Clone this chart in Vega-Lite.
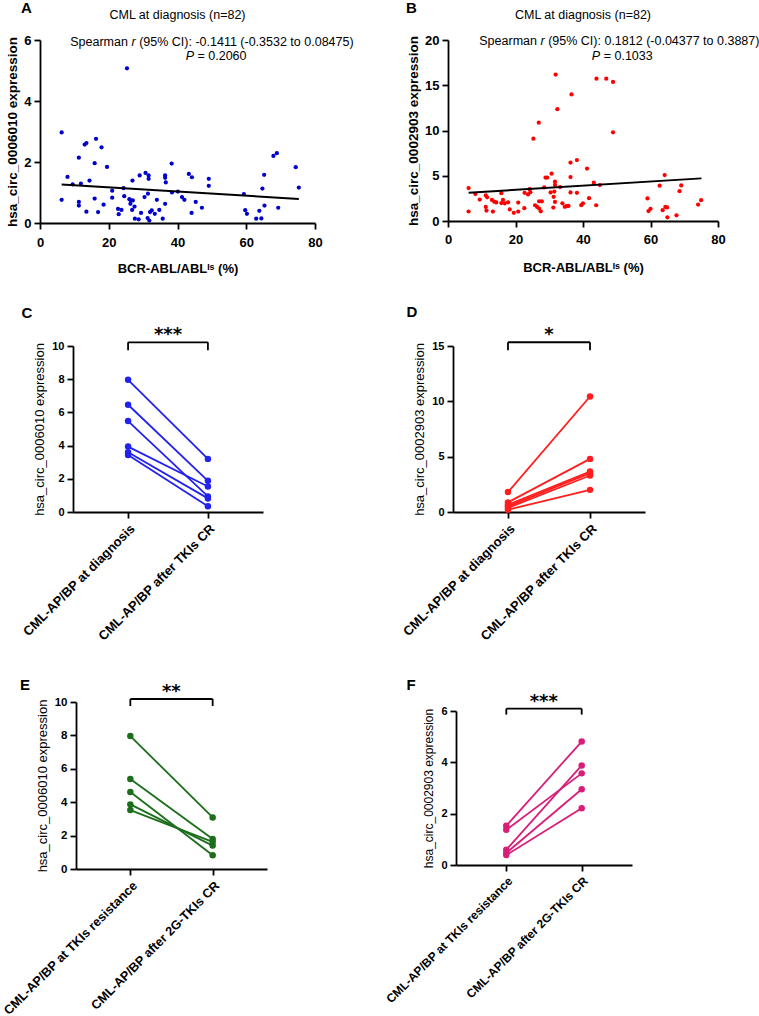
{
  "$schema": "https://vega.github.io/schema/vega-lite/v6.json",
  "padding": 0,
  "background": "white",
  "config": {
    "font": "Liberation Sans",
    "view": {"stroke": null},
    "axis": {"domainColor": "#000", "tickColor": "#000", "labelColor": "#000", "titleColor": "#000", "domainWidth": 1.8, "tickWidth": 1.8, "tickSize": 6, "grid": false, "labelOverlap": false, "labelFont": "Liberation Sans", "titleFont": "Liberation Sans"},
    "title": {"font": "Liberation Sans", "color": "#000"}
  },
  "datasets": {
    "A": [{"x":6.3,"y":2.97},{"x":6.3,"y":0.76},{"x":8.0,"y":1.51},{"x":9.5,"y":1.27},{"x":11.3,"y":2.14},{"x":11.3,"y":0.69},{"x":11.3,"y":0.57},{"x":11.9,"y":1.29},{"x":13.0,"y":2.57},{"x":13.5,"y":2.62},{"x":13.5,"y":0.37},{"x":14.4,"y":1.39},{"x":15.9,"y":1.96},{"x":15.9,"y":0.80},{"x":16.3,"y":2.76},{"x":16.9,"y":0.36},{"x":17.9,"y":2.48},{"x":18.5,"y":0.60},{"x":19.5,"y":1.84},{"x":21.0,"y":1.06},{"x":21.0,"y":0.83},{"x":22.7,"y":0.46},{"x":22.9,"y":0.29},{"x":23.7,"y":0.43},{"x":24.3,"y":1.14},{"x":24.5,"y":0.88},{"x":25.3,"y":5.07},{"x":26.0,"y":0.78},{"x":26.3,"y":0.63},{"x":26.4,"y":0.74},{"x":26.8,"y":0.43},{"x":26.9,"y":1.39},{"x":27.0,"y":0.74},{"x":27.5,"y":0.54},{"x":27.6,"y":0.14},{"x":28.7,"y":0.12},{"x":29.0,"y":1.56},{"x":29.4,"y":0.33},{"x":30.4,"y":0.85},{"x":30.7,"y":1.64},{"x":31.4,"y":0.96},{"x":31.6,"y":1.56},{"x":31.6,"y":1.45},{"x":31.3,"y":0.16},{"x":31.8,"y":0.08},{"x":32.0,"y":0.36},{"x":32.5,"y":0.41},{"x":33.4,"y":0.30},{"x":34.0,"y":0.76},{"x":34.7,"y":0.43},{"x":35.7,"y":0.14},{"x":36.4,"y":1.56},{"x":36.4,"y":1.48},{"x":36.6,"y":1.33},{"x":36.4,"y":0.63},{"x":38.3,"y":1.95},{"x":38.4,"y":1.00},{"x":40.1,"y":1.03},{"x":41.3,"y":0.85},{"x":42.0,"y":0.76},{"x":43.3,"y":1.61},{"x":44.2,"y":1.50},{"x":44.1,"y":0.33},{"x":45.3,"y":0.69},{"x":47.1,"y":0.50},{"x":49.1,"y":1.45},{"x":49.1,"y":1.22},{"x":59.3,"y":0.95},{"x":59.7,"y":0.42},{"x":60.2,"y":0.30},{"x":62.9,"y":0.14},{"x":64.4,"y":0.15},{"x":63.8,"y":0.40},{"x":64.7,"y":1.13},{"x":65.2,"y":1.58},{"x":65.3,"y":0.57},{"x":67.9,"y":2.20},{"x":68.9,"y":2.29},{"x":69.3,"y":0.50},{"x":74.4,"y":1.83},{"x":75.3,"y":1.16}],
    "lineA": [{"x":6.3,"y":1.26},{"x":75.3,"y":0.79}],
    "B": [{"x":6.1,"y":3.64},{"x":6.1,"y":1.05},{"x":8.1,"y":2.98},{"x":9.4,"y":2.37},{"x":11.2,"y":2.82},{"x":11.6,"y":2.62},{"x":11.2,"y":1.56},{"x":11.4,"y":1.15},{"x":13.0,"y":2.33},{"x":13.7,"y":2.13},{"x":14.3,"y":2.05},{"x":13.3,"y":1.04},{"x":15.8,"y":3.08},{"x":15.8,"y":1.98},{"x":16.3,"y":2.33},{"x":16.8,"y":1.96},{"x":17.8,"y":2.07},{"x":18.3,"y":1.28},{"x":19.5,"y":0.9},{"x":20.8,"y":2.04},{"x":20.8,"y":1.04},{"x":22.6,"y":1.41},{"x":22.7,"y":3.11},{"x":23.7,"y":2.93},{"x":24.2,"y":3.52},{"x":24.4,"y":3.19},{"x":25.3,"y":9.09},{"x":25.8,"y":1.74},{"x":26.4,"y":1.56},{"x":27.0,"y":1.37},{"x":27.5,"y":1.07},{"x":27.0,"y":2.18},{"x":27.8,"y":2.18},{"x":26.9,"y":10.87},{"x":28.5,"y":3.71},{"x":28.9,"y":4.8},{"x":29.4,"y":4.8},{"x":30.4,"y":3.15},{"x":30.7,"y":5.23},{"x":31.2,"y":1.48},{"x":31.3,"y":2.67},{"x":31.5,"y":3.25},{"x":31.9,"y":16.18},{"x":31.7,"y":4.34},{"x":31.7,"y":3.98},{"x":31.7,"y":2.1},{"x":32.4,"y":12.36},{"x":33.2,"y":3.75},{"x":33.9,"y":1.95},{"x":34.6,"y":1.57},{"x":35.1,"y":1.65},{"x":35.7,"y":1.67},{"x":36.3,"y":6.46},{"x":36.3,"y":4.85},{"x":36.3,"y":3.15},{"x":36.6,"y":13.99},{"x":38.2,"y":6.73},{"x":38.2,"y":3.12},{"x":39.5,"y":1.75},{"x":40.0,"y":1.95},{"x":41.2,"y":5.79},{"x":41.8,"y":2.52},{"x":43.2,"y":4.23},{"x":43.9,"y":1.74},{"x":44.0,"y":15.73},{"x":45.0,"y":3.97},{"x":46.9,"y":15.73},{"x":48.9,"y":15.36},{"x":48.9,"y":9.8},{"x":59.1,"y":2.49},{"x":59.4,"y":1.1},{"x":60.0,"y":1.34},{"x":62.7,"y":3.9},{"x":63.6,"y":1.19},{"x":64.2,"y":5.08},{"x":64.4,"y":1.56},{"x":64.9,"y":1.5},{"x":65.0,"y":0.41},{"x":67.7,"y":0.63},{"x":68.6,"y":3.3},{"x":69.1,"y":3.93},{"x":74.1,"y":1.82},{"x":75.0,"y":2.3}],
    "lineB": [{"x":6.1,"y":3.12},{"x":75.1,"y":4.71}],
    "C": [{"pair":1,"g":"CML-AP/BP at diagnosis","v":7.96},{"pair":1,"g":"CML-AP/BP after TKIs CR","v":3.2},{"pair":2,"g":"CML-AP/BP at diagnosis","v":6.46},{"pair":2,"g":"CML-AP/BP after TKIs CR","v":1.88},{"pair":3,"g":"CML-AP/BP at diagnosis","v":5.48},{"pair":3,"g":"CML-AP/BP after TKIs CR","v":0.94},{"pair":4,"g":"CML-AP/BP at diagnosis","v":3.94},{"pair":4,"g":"CML-AP/BP after TKIs CR","v":1.54},{"pair":5,"g":"CML-AP/BP at diagnosis","v":3.6},{"pair":5,"g":"CML-AP/BP after TKIs CR","v":0.82},{"pair":6,"g":"CML-AP/BP at diagnosis","v":3.44},{"pair":6,"g":"CML-AP/BP after TKIs CR","v":0.34}],
    "D": [{"pair":1,"g":"CML-AP/BP at diagnosis","v":1.8},{"pair":1,"g":"CML-AP/BP after TKIs CR","v":10.44},{"pair":2,"g":"CML-AP/BP at diagnosis","v":0.87},{"pair":2,"g":"CML-AP/BP after TKIs CR","v":4.8},{"pair":3,"g":"CML-AP/BP at diagnosis","v":0.66},{"pair":3,"g":"CML-AP/BP after TKIs CR","v":3.66},{"pair":4,"g":"CML-AP/BP at diagnosis","v":0.51},{"pair":4,"g":"CML-AP/BP after TKIs CR","v":3.51},{"pair":5,"g":"CML-AP/BP at diagnosis","v":0.36},{"pair":5,"g":"CML-AP/BP after TKIs CR","v":3.3},{"pair":6,"g":"CML-AP/BP at diagnosis","v":0.21},{"pair":6,"g":"CML-AP/BP after TKIs CR","v":2.0}],
    "E": [{"pair":1,"g":"CML-AP/BP at TKIs resistance","v":7.96},{"pair":1,"g":"CML-AP/BP after 2G-TKIs CR","v":3.09},{"pair":2,"g":"CML-AP/BP at TKIs resistance","v":5.39},{"pair":2,"g":"CML-AP/BP after 2G-TKIs CR","v":1.8},{"pair":3,"g":"CML-AP/BP at TKIs resistance","v":4.61},{"pair":3,"g":"CML-AP/BP after 2G-TKIs CR","v":0.82},{"pair":4,"g":"CML-AP/BP at TKIs resistance","v":3.87},{"pair":4,"g":"CML-AP/BP after 2G-TKIs CR","v":1.4},{"pair":5,"g":"CML-AP/BP at TKIs resistance","v":3.53},{"pair":5,"g":"CML-AP/BP after 2G-TKIs CR","v":1.62}],
    "F": [{"pair":1,"g":"CML-AP/BP at TKIs resistance","v":1.53},{"pair":1,"g":"CML-AP/BP after 2G-TKIs CR","v":4.81},{"pair":2,"g":"CML-AP/BP at TKIs resistance","v":1.37},{"pair":2,"g":"CML-AP/BP after 2G-TKIs CR","v":3.57},{"pair":3,"g":"CML-AP/BP at TKIs resistance","v":0.59},{"pair":3,"g":"CML-AP/BP after 2G-TKIs CR","v":3.88},{"pair":4,"g":"CML-AP/BP at TKIs resistance","v":0.47},{"pair":4,"g":"CML-AP/BP after 2G-TKIs CR","v":2.95},{"pair":5,"g":"CML-AP/BP at TKIs resistance","v":0.39},{"pair":5,"g":"CML-AP/BP after 2G-TKIs CR","v":2.21}]
  },
  "spacing": 30,
  "vconcat": [
    {
      "bounds": "flush",
      "spacing": 0,
      "hconcat": [
        {"width": 40, "height": 1, "title": {"text": "A", "anchor": "start", "frame": "group", "dx": 21, "offset": 22, "fontSize": 15, "fontWeight": "bold"}, "data": {"values": [{}]}, "mark": {"type": "point", "opacity": 0}, "encoding": {}},
        {
          "title": {"text": "CML at diagnosis (n=82)", "fontSize": 12.5, "fontWeight": "normal", "offset": 13},
          "width": 275,
          "height": 183,
          "layer": [
            {"data": {"name": "A"}, "mark": {"type": "circle", "size": 18, "color": "#0000cd", "opacity": 1},
             "encoding": {
               "x": {"field": "x", "type": "quantitative", "scale": {"domain": [0, 80], "nice": false},
                     "axis": {"values": [0, 20, 40, 60, 80], "title": "BCR-ABL/ABLᴵˢ (%)", "titleFontSize": 13, "titleFontWeight": "bold", "titlePadding": 13, "labelFontSize": 13, "labelFontWeight": "bold", "labelPadding": 7, "labelFlush": false, "labelOverlap": false}},
               "y": {"field": "y", "type": "quantitative", "scale": {"domain": [0, 6], "nice": false},
                     "axis": {"values": [0, 2, 4, 6], "title": "hsa_circ_0006010 expression", "titleFontSize": 13.5, "titleFontWeight": "bold", "titlePadding": 4, "labelFontSize": 13, "labelFontWeight": "bold", "labelPadding": 3, "labelOverlap": false}}
             }},
            {"data": {"name": "lineA"}, "mark": {"type": "line", "color": "#000", "strokeWidth": 2},
             "encoding": {"x": {"field": "x", "type": "quantitative"}, "y": {"field": "y", "type": "quantitative"}}},
            {"data": {"values": [{"t": "Spearman"}]}, "mark": {"type": "text", "align": "right", "baseline": "middle", "fontSize": 12.5, "dx": -3.5},
             "encoding": {"text": {"field": "t"}, "x": {"datum": 26.6}, "y": {"datum": 5.93}}},
            {"data": {"values": [{"t": "r"}]}, "mark": {"type": "text", "align": "left", "baseline": "middle", "fontSize": 12.5, "fontStyle": "italic"},
             "encoding": {"text": {"field": "t"}, "x": {"datum": 26.6}, "y": {"datum": 5.93}}},
            {"data": {"values": [{"t": "(95% CI): -0.1411 (-0.3532 to 0.08475)"}]}, "mark": {"type": "text", "align": "left", "baseline": "middle", "fontSize": 12.5, "dx": 7.7},
             "encoding": {"text": {"field": "t"}, "x": {"datum": 26.6}, "y": {"datum": 5.93}}},
            {"data": {"values": [{"t": "P"}]}, "mark": {"type": "text", "align": "right", "baseline": "middle", "fontSize": 12.5, "fontStyle": "italic"},
             "encoding": {"text": {"field": "t"}, "x": {"datum": 44.8}, "y": {"datum": 5.46}}},
            {"data": {"values": [{"t": "= 0.2060"}]}, "mark": {"type": "text", "align": "left", "baseline": "middle", "fontSize": 12.5, "dx": 3.5},
             "encoding": {"text": {"field": "t"}, "x": {"datum": 44.8}, "y": {"datum": 5.46}}}
          ]
        },
        {"width": 133, "height": 1, "title": {"text": "B", "anchor": "start", "frame": "group", "dx": 91, "offset": 22, "fontSize": 15, "fontWeight": "bold"}, "data": {"values": [{}]}, "mark": {"type": "point", "opacity": 0}, "encoding": {}},
        {
          "title": {"text": "CML at diagnosis (n=82)", "fontSize": 12.5, "fontWeight": "normal", "offset": 13},
          "width": 270,
          "height": 181,
          "layer": [
            {"data": {"name": "B"}, "mark": {"type": "circle", "size": 18, "color": "#ff0000", "opacity": 1},
             "encoding": {
               "x": {"field": "x", "type": "quantitative", "scale": {"domain": [0, 80], "nice": false},
                     "axis": {"values": [0, 20, 40, 60, 80], "title": "BCR-ABL/ABLᴵˢ (%)", "titleFontSize": 13, "titleFontWeight": "bold", "titlePadding": 15, "labelFontSize": 13, "labelFontWeight": "bold", "labelPadding": 6, "labelFlush": false, "labelOverlap": false}},
               "y": {"field": "y", "type": "quantitative", "scale": {"domain": [0, 20], "nice": false},
                     "axis": {"values": [0, 5, 10, 15, 20], "title": "hsa_circ_0002903 expression", "titleFontSize": 13.5, "titleFontWeight": "bold", "titlePadding": 4, "labelFontSize": 13, "labelFontWeight": "bold", "labelPadding": 3, "labelOverlap": false}}
             }},
            {"data": {"name": "lineB"}, "mark": {"type": "line", "color": "#000", "strokeWidth": 2},
             "encoding": {"x": {"field": "x", "type": "quantitative"}, "y": {"field": "y", "type": "quantitative"}}},
            {"data": {"values": [{"t": "Spearman"}]}, "mark": {"type": "text", "align": "right", "baseline": "middle", "fontSize": 12.5, "dx": -3.5},
             "encoding": {"text": {"field": "t"}, "x": {"datum": 27.4}, "y": {"datum": 19.93}}},
            {"data": {"values": [{"t": "r"}]}, "mark": {"type": "text", "align": "left", "baseline": "middle", "fontSize": 12.5, "fontStyle": "italic"},
             "encoding": {"text": {"field": "t"}, "x": {"datum": 27.4}, "y": {"datum": 19.93}}},
            {"data": {"values": [{"t": "(95% CI): 0.1812 (-0.04377 to 0.3887)"}]}, "mark": {"type": "text", "align": "left", "baseline": "middle", "fontSize": 12.5, "dx": 7.7},
             "encoding": {"text": {"field": "t"}, "x": {"datum": 27.4}, "y": {"datum": 19.93}}},
            {"data": {"values": [{"t": "P"}]}, "mark": {"type": "text", "align": "right", "baseline": "middle", "fontSize": 12.5, "fontStyle": "italic"},
             "encoding": {"text": {"field": "t"}, "x": {"datum": 45.1}, "y": {"datum": 18.19}}},
            {"data": {"values": [{"t": "= 0.1033"}]}, "mark": {"type": "text", "align": "left", "baseline": "middle", "fontSize": 12.5, "dx": 3.5},
             "encoding": {"text": {"field": "t"}, "x": {"datum": 45.1}, "y": {"datum": 18.19}}}
          ]
        }
      ]
    },
    {
      "spacing": 33,
      "vconcat": [
        {
          "bounds": "flush",
          "spacing": 0,
          "hconcat": [
            {"width": 73, "height": 1, "title": {"text": "C", "anchor": "start", "frame": "group", "dx": 21.5, "offset": 23, "fontSize": 15, "fontWeight": "bold"}, "data": {"values": [{}]}, "mark": {"type": "point", "opacity": 0}, "encoding": {}},
            {
              "width": 190,
              "height": 166,
              "layer": [
                {"data": {"name": "C"}, "mark": {"type": "line", "color": "#2222ee", "strokeWidth": 1.8},
                 "encoding": {
                   "x": {"field": "g", "type": "nominal", "scale": {"type": "point", "padding": 0.69, "domain": ["CML-AP/BP at diagnosis", "CML-AP/BP after TKIs CR"]},
                         "axis": {"title": null, "labelAngle": -45, "labelFontSize": 13, "labelFontWeight": "bold", "labelPadding": 4, "labelLimit": 300, "labelOverlap": false}},
                   "y": {"field": "v", "type": "quantitative", "scale": {"domain": [0, 10], "nice": false},
                         "axis": {"values": [0, 2, 4, 6, 8, 10], "tickCount": 6, "title": "hsa_circ_0006010 expression", "titleFontSize": 13, "titleFontWeight": "normal", "titlePadding": 5, "labelFontSize": 11, "labelFontWeight": "bold", "labelPadding": 3, "labelOverlap": false}},
                   "detail": {"field": "pair", "type": "nominal"}
                 }},
                {"data": {"name": "C"}, "mark": {"type": "circle", "size": 42, "color": "#2222ee", "opacity": 1},
                 "encoding": {"x": {"field": "g", "type": "nominal"}, "y": {"field": "v", "type": "quantitative"}}},
                {"data": {"values": [{"s": "bracket"}]}, "mark": {"type": "rule", "color": "#000", "strokeWidth": 1.8},
                 "encoding": {"x": {"datum": "CML-AP/BP at diagnosis"}, "x2": {"datum": "CML-AP/BP after TKIs CR"}, "y": {"datum": 10.22}}},
                {"data": {"values": [{"g": "CML-AP/BP at diagnosis"}, {"g": "CML-AP/BP after TKIs CR"}]}, "mark": {"type": "rule", "color": "#000", "strokeWidth": 1.8},
                 "encoding": {"x": {"field": "g", "type": "nominal"}, "y": {"datum": 9.74}, "y2": {"datum": 10.22}}},
                {"data": {"values": [{"s": "***"}]}, "mark": {"type": "text", "font": "DejaVu Sans", "fontWeight": "bold", "fontSize": 18, "align": "center", "baseline": "alphabetic", "dx": 40, "dy": -2},
                 "encoding": {"text": {"field": "s"}, "x": {"datum": "CML-AP/BP at diagnosis"}, "y": {"datum": 10.22}}}
              ]
            },
            {"width": 190, "height": 1, "title": {"text": "D", "anchor": "start", "frame": "group", "dx": 143.5, "offset": 23.5, "fontSize": 15, "fontWeight": "bold"}, "data": {"values": [{}]}, "mark": {"type": "point", "opacity": 0}, "encoding": {}},
            {
              "width": 192,
              "height": 166,
              "layer": [
                {"data": {"name": "D"}, "mark": {"type": "line", "color": "#ff1e1e", "strokeWidth": 1.8},
                 "encoding": {
                   "x": {"field": "g", "type": "nominal", "scale": {"type": "point", "padding": 0.67, "domain": ["CML-AP/BP at diagnosis", "CML-AP/BP after TKIs CR"]},
                         "axis": {"title": null, "labelAngle": -45, "labelFontSize": 13, "labelFontWeight": "bold", "labelPadding": 4, "labelLimit": 300, "labelOverlap": false}},
                   "y": {"field": "v", "type": "quantitative", "scale": {"domain": [0, 15], "nice": false},
                         "axis": {"values": [0, 5, 10, 15], "title": "hsa_circ_0002903 expression", "titleFontSize": 13, "titleFontWeight": "normal", "titlePadding": 5, "labelFontSize": 11, "labelFontWeight": "bold", "labelPadding": 3, "labelOverlap": false}},
                   "detail": {"field": "pair", "type": "nominal"}
                 }},
                {"data": {"name": "D"}, "mark": {"type": "circle", "size": 42, "color": "#ff1e1e", "opacity": 1},
                 "encoding": {"x": {"field": "g", "type": "nominal"}, "y": {"field": "v", "type": "quantitative"}}},
                {"data": {"values": [{"s": "bracket"}]}, "mark": {"type": "rule", "color": "#000", "strokeWidth": 1.8},
                 "encoding": {"x": {"datum": "CML-AP/BP at diagnosis"}, "x2": {"datum": "CML-AP/BP after TKIs CR"}, "y": {"datum": 15.34}}},
                {"data": {"values": [{"g": "CML-AP/BP at diagnosis"}, {"g": "CML-AP/BP after TKIs CR"}]}, "mark": {"type": "rule", "color": "#000", "strokeWidth": 1.8},
                 "encoding": {"x": {"field": "g", "type": "nominal"}, "y": {"datum": 14.62}, "y2": {"datum": 15.34}}},
                {"data": {"values": [{"s": "*"}]}, "mark": {"type": "text", "font": "DejaVu Sans", "fontWeight": "bold", "fontSize": 18, "align": "center", "baseline": "alphabetic", "dx": 41, "dy": -2},
                 "encoding": {"text": {"field": "s"}, "x": {"datum": "CML-AP/BP at diagnosis"}, "y": {"datum": 15.34}}}
              ]
            }
          ]
        },
        {
          "bounds": "flush",
          "spacing": 0,
          "hconcat": [
            {"width": 76, "height": 1, "title": {"text": "E", "anchor": "start", "frame": "group", "dx": 20, "offset": 7, "fontSize": 15, "fontWeight": "bold"}, "data": {"values": [{}]}, "mark": {"type": "point", "opacity": 0}, "encoding": {}},
            {
              "width": 191,
              "height": 167,
              "layer": [
                {"data": {"name": "E"}, "mark": {"type": "line", "color": "#1b6e1b", "strokeWidth": 1.8},
                 "encoding": {
                   "x": {"field": "g", "type": "nominal", "scale": {"type": "point", "padding": 0.66, "domain": ["CML-AP/BP at TKIs resistance", "CML-AP/BP after 2G-TKIs CR"]},
                         "axis": {"title": null, "labelAngle": -45, "labelFontSize": 12.7, "labelFontWeight": "bold", "labelPadding": 4, "labelLimit": 300, "labelOverlap": false}},
                   "y": {"field": "v", "type": "quantitative", "scale": {"domain": [0, 10], "nice": false},
                         "axis": {"values": [0, 2, 4, 6, 8, 10], "tickCount": 6, "title": "hsa_circ_0006010 expression", "titleFontSize": 13, "titleFontWeight": "normal", "titlePadding": 5, "labelFontSize": 11.5, "labelFontWeight": "bold", "labelPadding": 3, "labelOverlap": false}},
                   "detail": {"field": "pair", "type": "nominal"}
                 }},
                {"data": {"name": "E"}, "mark": {"type": "circle", "size": 42, "color": "#1b6e1b", "opacity": 1},
                 "encoding": {"x": {"field": "g", "type": "nominal"}, "y": {"field": "v", "type": "quantitative"}}},
                {"data": {"values": [{"s": "bracket"}]}, "mark": {"type": "rule", "color": "#000", "strokeWidth": 1.8},
                 "encoding": {"x": {"datum": "CML-AP/BP at TKIs resistance"}, "x2": {"datum": "CML-AP/BP after 2G-TKIs CR"}, "y": {"datum": 10.18}}},
                {"data": {"values": [{"g": "CML-AP/BP at TKIs resistance"}, {"g": "CML-AP/BP after 2G-TKIs CR"}]}, "mark": {"type": "rule", "color": "#000", "strokeWidth": 1.8},
                 "encoding": {"x": {"field": "g", "type": "nominal"}, "y": {"datum": 9.76}, "y2": {"datum": 10.18}}},
                {"data": {"values": [{"s": "**"}]}, "mark": {"type": "text", "font": "DejaVu Sans", "fontWeight": "bold", "fontSize": 18, "align": "center", "baseline": "alphabetic", "dx": 41, "dy": -2},
                 "encoding": {"text": {"field": "s"}, "x": {"datum": "CML-AP/BP at TKIs resistance"}, "y": {"datum": 10.18}}}
              ]
            },
            {"width": 189, "height": 1, "title": {"text": "F", "anchor": "start", "frame": "group", "dx": 139.5, "offset": 7, "fontSize": 15, "fontWeight": "bold"}, "data": {"values": [{}]}, "mark": {"type": "point", "opacity": 0}, "encoding": {}},
            {
              "bounds": "flush",
              "spacing": 0,
              "vconcat": [
                {"width": 1, "height": 9, "data": {"values": [{}]}, "mark": {"type": "point", "opacity": 0}, "encoding": {}},
                {
                  "width": 176,
                  "height": 154,
                  "layer": [
                    {"data": {"name": "F"}, "mark": {"type": "line", "color": "#d81e78", "strokeWidth": 1.8},
                     "encoding": {
                       "x": {"field": "g", "type": "nominal", "scale": {"type": "point", "padding": 0.667, "domain": ["CML-AP/BP at TKIs resistance", "CML-AP/BP after 2G-TKIs CR"]},
                             "axis": {"title": null, "labelAngle": -45, "labelFontSize": 12, "labelFontWeight": "bold", "labelPadding": 4, "labelLimit": 300, "labelOverlap": false}},
                       "y": {"field": "v", "type": "quantitative", "scale": {"domain": [0, 6], "nice": false},
                             "axis": {"values": [0, 2, 4, 6], "title": "hsa_circ_0002903 expression", "titleFontSize": 12, "titleFontWeight": "normal", "titlePadding": 5, "labelFontSize": 11, "labelFontWeight": "bold", "labelPadding": 3, "labelOverlap": false}},
                       "detail": {"field": "pair", "type": "nominal"}
                     }},
                    {"data": {"name": "F"}, "mark": {"type": "circle", "size": 42, "color": "#d81e78", "opacity": 1},
                     "encoding": {"x": {"field": "g", "type": "nominal"}, "y": {"field": "v", "type": "quantitative"}}},
                    {"data": {"values": [{"s": "bracket"}]}, "mark": {"type": "rule", "color": "#000", "strokeWidth": 1.8},
                     "encoding": {"x": {"datum": "CML-AP/BP at TKIs resistance"}, "x2": {"datum": "CML-AP/BP after 2G-TKIs CR"}, "y": {"datum": 6.09}}},
                    {"data": {"values": [{"g": "CML-AP/BP at TKIs resistance"}, {"g": "CML-AP/BP after 2G-TKIs CR"}]}, "mark": {"type": "rule", "color": "#000", "strokeWidth": 1.8},
                     "encoding": {"x": {"field": "g", "type": "nominal"}, "y": {"datum": 5.86}, "y2": {"datum": 6.09}}},
                    {"data": {"values": [{"s": "***"}]}, "mark": {"type": "text", "font": "DejaVu Sans", "fontWeight": "bold", "fontSize": 18, "align": "center", "baseline": "alphabetic", "dx": 37.5, "dy": -2},
                     "encoding": {"text": {"field": "s"}, "x": {"datum": "CML-AP/BP at TKIs resistance"}, "y": {"datum": 6.09}}}
                  ]
                }
              ]
            }
          ]
        }
      ]
    }
  ]
}
